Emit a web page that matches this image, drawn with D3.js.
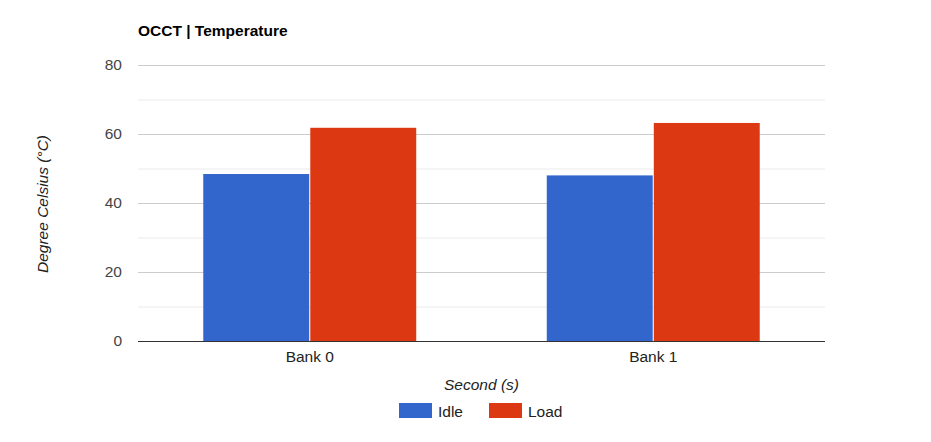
<!DOCTYPE html>
<html><head><meta charset="utf-8">
<script src="https://cdn.jsdelivr.net/npm/d3@7"></script>
<style>body{margin:0;background:#fff}text{font-family:Arial,"Liberation Sans",sans-serif}</style>
</head><body><svg id="c" width="931" height="442"></svg>
<script>
const categories = ["Bank 0", "Bank 1"];
const seriesNames = ["Idle", "Load"];
const idle = [48.4, 48.0];
const load = [61.8, 63.2];
const yTicks = [0, 20, 40, 60, 80];
const yMinor = [10, 30, 50, 70];
const colors = ["#3366cc", "#dc3912"];

const svg = d3.select("#c");
const L = 138, R = 825, T = 65, B = 341;
const y = d3.scaleLinear().domain([0, 80]).range([B, T]);
const x0 = d3.scaleBand().domain(categories).range([L, R]).paddingInner(0.38).paddingOuter(0.19);
const x1 = d3.scaleBand().domain(seriesNames).range([0, x0.bandwidth()]).paddingInner(0.01);

svg.append("g").selectAll("line").data(yMinor).join("line")
  .attr("x1", L).attr("x2", R).attr("y1", d => y(d) + 0.5).attr("y2", d => y(d) + 0.5)
  .attr("stroke", "#ebebeb");
svg.append("g").selectAll("line").data(yTicks.filter(d => d > 0)).join("line")
  .attr("x1", L).attr("x2", R).attr("y1", d => y(d) + 0.5).attr("y2", d => y(d) + 0.5)
  .attr("stroke", "#cccccc");

const vals = [idle, load];
const g = svg.append("g");
categories.forEach((c, i) => {
  seriesNames.forEach((s, j) => {
    g.append("rect").attr("x", x0(c) + x1(s)).attr("width", x1.bandwidth())
      .attr("y", y(vals[j][i])).attr("height", B - y(vals[j][i])).attr("fill", colors[j]);
  });
});

svg.append("line").attr("x1", L).attr("x2", R).attr("y1", B + 0.5).attr("y2", B + 0.5).attr("stroke", "#333").attr("stroke-width", 1.2);

const yAxis = d3.axisLeft(y).tickValues(yTicks).tickSize(0).tickPadding(0);
const ya = svg.append("g").attr("transform", `translate(${L - 16},0)`).call(yAxis);
ya.select(".domain").remove();
ya.selectAll("text").attr("font-size", 15.5).attr("fill", "#444").attr("font-family", "Arial, 'Liberation Sans', sans-serif");

const xAxis = d3.axisBottom(x0).tickSize(0).tickPadding(0);
const xa = svg.append("g").attr("transform", `translate(0,${B + 10})`).call(xAxis);
xa.select(".domain").remove();
xa.selectAll("text").attr("font-size", 15.5).attr("fill", "#222").attr("font-family", "Arial, 'Liberation Sans', sans-serif");

svg.append("text").attr("x", L).attr("y", 36).attr("font-size", 15.5).attr("font-weight", "bold").attr("fill", "#000").text("OCCT | Temperature");
svg.append("text").attr("x", (L + R) / 2).attr("y", 390).attr("text-anchor", "middle").attr("font-size", 15.5).attr("font-style", "italic").attr("fill", "#222").text("Second (s)");
svg.append("text").attr("transform", `translate(48,${(T + B) / 2 + 1}) rotate(-90)`).attr("text-anchor", "middle").attr("font-size", 15.5).attr("font-style", "italic").attr("fill", "#222").text("Degree Celsius (°C)");

const legX = [399, 489];
seriesNames.forEach((s, j) => {
  svg.append("rect").attr("x", legX[j]).attr("y", 403).attr("width", 33).attr("height", 15).attr("fill", colors[j]);
  svg.append("text").attr("x", legX[j] + 39).attr("y", 417).attr("font-size", 15.5).attr("fill", "#222").text(s);
});
</script></body></html>
